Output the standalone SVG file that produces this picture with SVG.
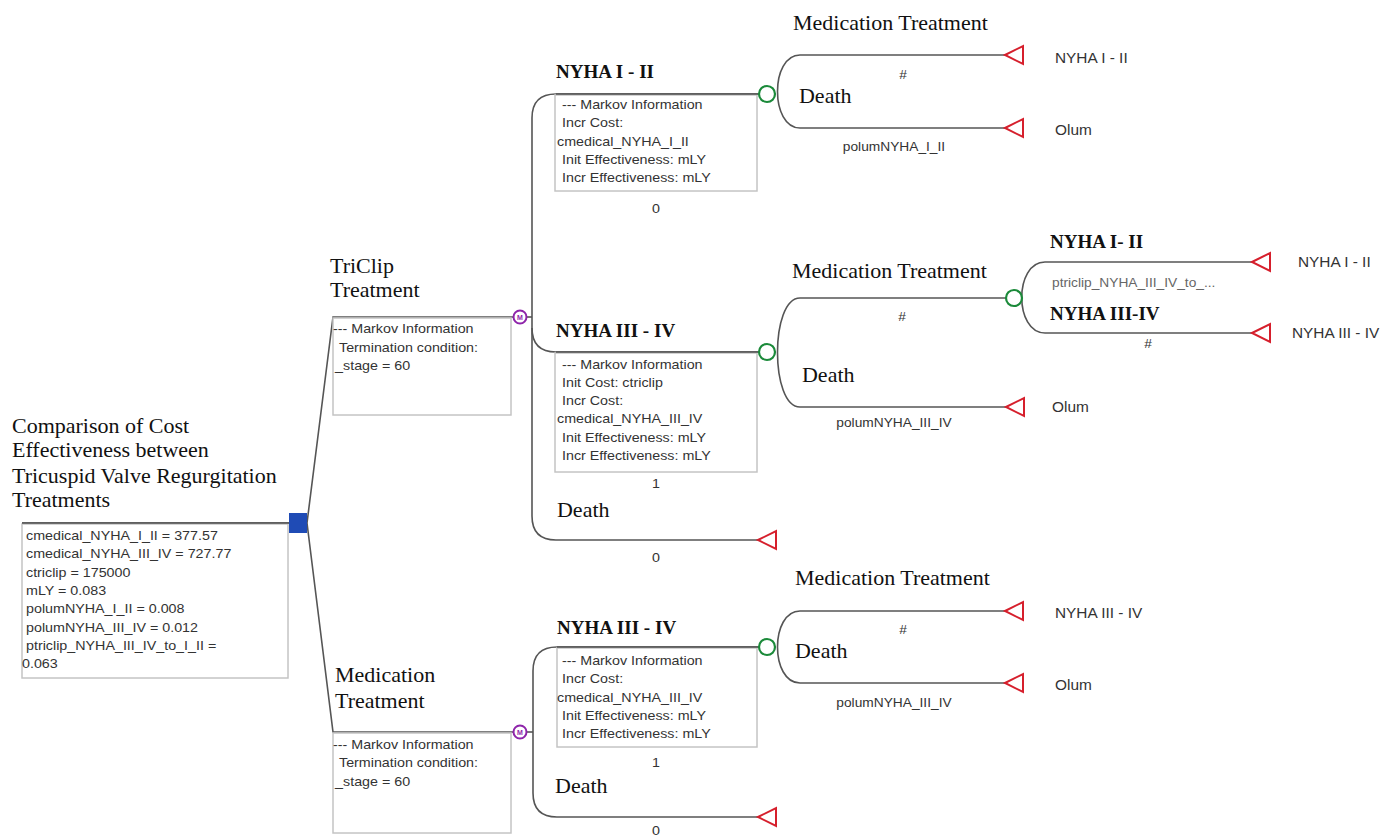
<svg xmlns="http://www.w3.org/2000/svg" xmlns:xlink="http://www.w3.org/1999/xlink" width="1388" height="837" viewBox="0 0 1388 837">
<style>
text { transform-box: fill-box; transform-origin: left center; transform: scaleX(1.1); }
.ti { font-family: "Liberation Serif", "Times New Roman", serif; font-size: 20px; fill: #111; }
.tb { font-family: "Liberation Serif", "Times New Roman", serif; font-size: 18px; font-weight: bold; fill: #111; transform: scaleX(1.06); }
.bx { font-family: "Liberation Sans", Arial, sans-serif; font-size: 13px; fill: #333; }
.sm { font-family: "Liberation Sans", Arial, sans-serif; font-size: 12.5px; fill: #333; }
.lb { font-family: "Liberation Sans", Arial, sans-serif; font-size: 14px; fill: #333; }
.c { text-anchor: middle; transform-origin: center; }
.lt { fill: #666; }
.box { fill: #fff; stroke: #c4c4c4; stroke-width: 1.5; }
.ln { fill: none; stroke: #555; stroke-width: 1.6; }
.chance { fill: #fff; stroke: #1b8a3a; stroke-width: 2.2; }
.markov { fill: #fff; stroke: #8e24aa; stroke-width: 2; }
.mk { font-family: "Liberation Sans", Arial, sans-serif; font-size: 7px; font-weight: bold; fill: #8e24aa; text-anchor: middle; transform: none; }
.term { fill: #fff; stroke: #d61f2c; stroke-width: 2; stroke-linejoin: miter; }
.dec { fill: #1f4bb5; }
</style>
<defs>
<polygon id="tri" class="term" points="0,0 18,-9 18,9"/>
</defs>
<rect x="0" y="0" width="1388" height="837" fill="#fff"/>

<g id="connectors">
<path class="ln" d="M22,523 H290"/>
<path class="ln" d="M307,523 L333,317 H514"/>
<path class="ln" d="M307,523 L333,732 H514"/>
<path class="ln" d="M527,317 H532"/>
<path class="ln" d="M759,94 H556 Q532,94 532,118 V516 Q532,540 556,540 H758"/>
<path class="ln" d="M532,328 Q532,352 556,352 H759"/>
<path class="ln" d="M1005,55 H800 C770,55 770,128 800,128 H1005"/>
<path class="ln" d="M1006,298 H800 C770,298 770,407 800,407 H1006"/>
<path class="ln" d="M1252,262 H1045 C1014,262 1014,333 1045,333 H1252"/>
<path class="ln" d="M527,732 H533"/>
<path class="ln" d="M759,647 H557 Q533,647 533,671 V793 Q533,817 557,817 H758"/>
<path class="ln" d="M1005,611 H800 C770,611 770,683 800,683 H1005"/>
</g>

<g id="root">
<text class="ti" x="12" y="433">Comparison of Cost</text>
<text class="ti" x="12" y="457">Effectiveness between</text>
<text class="ti" x="12" y="483">Tricuspid Valve Regurgitation</text>
<text class="ti" x="12" y="507">Treatments</text>
<rect class="box" x="22" y="524" width="266" height="154"/>
<path class="ln" d="M22,523 H290"/>
<text class="bx" x="26" y="540">cmedical_NYHA_I_II = 377.57</text>
<text class="bx" x="26" y="558">cmedical_NYHA_III_IV = 727.77</text>
<text class="bx" x="26" y="577">ctriclip = 175000</text>
<text class="bx" x="26" y="595">mLY = 0.083</text>
<text class="bx" x="26" y="613">polumNYHA_I_II = 0.008</text>
<text class="bx" x="26" y="632">polumNYHA_III_IV = 0.012</text>
<text class="bx" x="26" y="650">ptriclip_NYHA_III_IV_to_I_II =</text>
<text class="bx" x="22" y="668">0.063</text>
<rect class="dec" x="289" y="513" width="18" height="20"/>
</g>

<g id="triclip">
<text class="ti" x="330" y="273">TriClip</text>
<text class="ti" x="330" y="297">Treatment</text>
<rect class="box" x="333" y="318" width="178" height="97"/>
<text class="bx" x="333" y="333">--- Markov Information</text>
<text class="bx" x="339" y="352">Termination condition:</text>
<text class="bx" x="335" y="370">_stage = 60</text>
<circle class="markov" cx="520" cy="317" r="6.5"/>
<text class="mk" x="520" y="319.5">M</text>
</g>

<g id="triclip-nyha12">
<text class="tb" x="556" y="78">NYHA I - II</text>
<rect class="box" x="555" y="95" width="202" height="96"/>
<path class="ln" d="M556,94 H759"/>
<text class="bx" x="562" y="109">--- Markov Information</text>
<text class="bx" x="562" y="127">Incr Cost:</text>
<text class="bx" x="557" y="146">cmedical_NYHA_I_II</text>
<text class="bx" x="562" y="164">Init Effectiveness: mLY</text>
<text class="bx" x="562" y="182">Incr Effectiveness: mLY</text>
<text class="bx c" x="656" y="213">0</text>
<circle class="chance" cx="767" cy="94" r="8"/>
</g>

<g id="triclip-nyha12-med">
<text class="ti" x="793" y="30">Medication Treatment</text>
<text class="sm c" x="903" y="79">#</text>
<use xlink:href="#tri" href="#tri" x="1005" y="55"/>
<text class="lb" x="1055" y="63">NYHA I - II</text>
</g>

<g id="triclip-nyha12-death">
<text class="ti" x="799" y="103">Death</text>
<text class="sm c" x="894" y="151">polumNYHA_I_II</text>
<use xlink:href="#tri" href="#tri" x="1005" y="128"/>
<text class="lb" x="1055" y="135">Olum</text>
</g>

<g id="triclip-nyha34">
<text class="tb" x="556" y="337">NYHA III - IV</text>
<rect class="box" x="555" y="353" width="202" height="119"/>
<path class="ln" d="M556,352 H759"/>
<text class="bx" x="562" y="369">--- Markov Information</text>
<text class="bx" x="562" y="387">Init Cost: ctriclip</text>
<text class="bx" x="562" y="405">Incr Cost:</text>
<text class="bx" x="557" y="423">cmedical_NYHA_III_IV</text>
<text class="bx" x="562" y="442">Init Effectiveness: mLY</text>
<text class="bx" x="562" y="460">Incr Effectiveness: mLY</text>
<text class="bx c" x="656" y="488">1</text>
<circle class="chance" cx="767" cy="352" r="8"/>
</g>

<g id="triclip-nyha34-med">
<text class="ti" x="792" y="278">Medication Treatment</text>
<text class="sm c" x="902" y="321">#</text>
<circle class="chance" cx="1014" cy="298" r="8"/>
</g>

<g id="triclip-nyha34-med-nyha12">
<text class="tb" x="1050" y="248">NYHA I- II</text>
<text class="sm lt" x="1052" y="287">ptriclip_NYHA_III_IV_to_...</text>
<use xlink:href="#tri" href="#tri" x="1252" y="262"/>
<text class="lb" x="1298" y="267">NYHA I - II</text>
</g>

<g id="triclip-nyha34-med-nyha34">
<text class="tb" x="1050" y="320">NYHA III-IV</text>
<text class="sm c" x="1148" y="348">#</text>
<use xlink:href="#tri" href="#tri" x="1252" y="333"/>
<text class="lb" x="1292" y="338">NYHA III - IV</text>
</g>

<g id="triclip-nyha34-death">
<text class="ti" x="802" y="382">Death</text>
<text class="sm c" x="894" y="427">polumNYHA_III_IV</text>
<use xlink:href="#tri" href="#tri" x="1006" y="407"/>
<text class="lb" x="1052" y="412">Olum</text>
</g>

<g id="triclip-death">
<text class="ti" x="557" y="517">Death</text>
<text class="bx c" x="656" y="562">0</text>
<use xlink:href="#tri" href="#tri" x="758" y="540"/>
</g>

<g id="medication">
<text class="ti" x="335" y="682">Medication</text>
<text class="ti" x="335" y="708">Treatment</text>
<rect class="box" x="333" y="733" width="178" height="100"/>
<text class="bx" x="333" y="749">--- Markov Information</text>
<text class="bx" x="339" y="767">Termination condition:</text>
<text class="bx" x="335" y="786">_stage = 60</text>
<circle class="markov" cx="520" cy="732" r="6.5"/>
<text class="mk" x="520" y="734.5">M</text>
</g>

<g id="med-nyha34">
<text class="tb" x="557" y="634">NYHA III - IV</text>
<rect class="box" x="557" y="648" width="200" height="99"/>
<path class="ln" d="M557,647 H759"/>
<text class="bx" x="562" y="665">--- Markov Information</text>
<text class="bx" x="562" y="683">Incr Cost:</text>
<text class="bx" x="557" y="702">cmedical_NYHA_III_IV</text>
<text class="bx" x="562" y="720">Init Effectiveness: mLY</text>
<text class="bx" x="562" y="738">Incr Effectiveness: mLY</text>
<text class="bx c" x="656" y="767">1</text>
<circle class="chance" cx="767" cy="647" r="8"/>
</g>

<g id="med-nyha34-med">
<text class="ti" x="795" y="585">Medication Treatment</text>
<text class="sm c" x="903" y="634">#</text>
<use xlink:href="#tri" href="#tri" x="1005" y="611"/>
<text class="lb" x="1055" y="618">NYHA III - IV</text>
</g>

<g id="med-nyha34-death">
<text class="ti" x="795" y="658">Death</text>
<text class="sm c" x="894" y="707">polumNYHA_III_IV</text>
<use xlink:href="#tri" href="#tri" x="1005" y="683"/>
<text class="lb" x="1055" y="690">Olum</text>
</g>

<g id="med-death">
<text class="ti" x="555" y="793">Death</text>
<text class="bx c" x="656" y="835">0</text>
<use xlink:href="#tri" href="#tri" x="758" y="817"/>
</g>
</svg>
